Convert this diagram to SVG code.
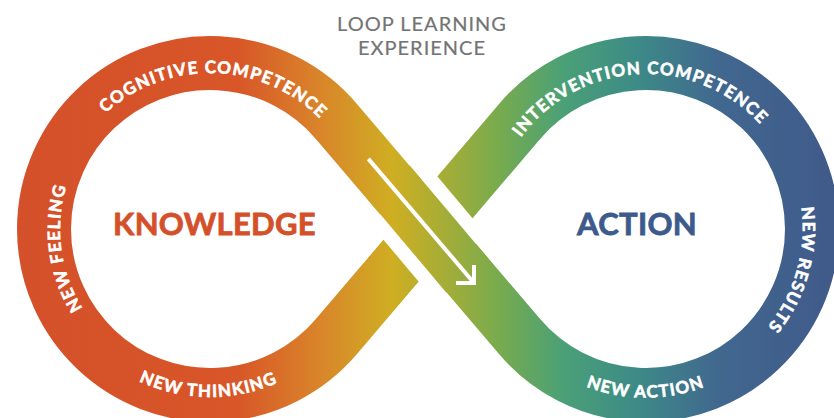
<svg xmlns="http://www.w3.org/2000/svg" width="834" height="418" viewBox="0 0 834 418">
<defs>
<linearGradient id="band" gradientUnits="userSpaceOnUse" x1="16" y1="0" x2="834" y2="0">
<stop offset="0" stop-color="#D4502A"/>
<stop offset="0.27" stop-color="#D85628"/>
<stop offset="0.37" stop-color="#D9842A"/>
<stop offset="0.46" stop-color="#CFAE22"/>
<stop offset="0.52" stop-color="#A8AD35"/>
<stop offset="0.59" stop-color="#78AB4E"/>
<stop offset="0.67" stop-color="#4AA077"/>
<stop offset="0.76" stop-color="#3D8A87"/>
<stop offset="0.86" stop-color="#41678F"/>
<stop offset="1" stop-color="#405A8A"/>
</linearGradient>
<path id="p-cog" d="M64.9,171.8 A156,156 0 0 1 357.9,179.5"/>
<path id="p-feel" d="M152.6,367.6 A150,150 0 0 1 118.7,110.0"/>
<path id="p-think" d="M63.8,311.7 A168,168 0 0 0 354.7,314.3"/>
<path id="p-int" d="M497.8,183.7 A155,155 0 0 1 788.7,168.4"/>
<path id="p-res" d="M792.8,173.2 A156,156 0 0 1 741.5,351.9"/>
<path id="p-act" d="M499.8,313.0 A168,168 0 0 0 791.5,313.0"/>
</defs>
<style>
.band{fill:none;stroke:url(#band);stroke-width:54}
.lbl{font-family:Lato,"Open Sans","Liberation Sans",sans-serif;font-weight:700;font-size:17px;fill:#FFFFFF;stroke:#FFFFFF;stroke-width:0.6px;letter-spacing:1.3px}
.main{font-family:Lato,"Open Sans","Liberation Sans",sans-serif;font-weight:700;font-size:31px;text-anchor:middle;stroke-width:0.8px;letter-spacing:0.3px}
.title{font-family:Lato,"Open Sans","Liberation Sans",sans-serif;font-weight:400;font-size:20px;fill:#747474;stroke:#747474;stroke-width:0.2px;text-anchor:middle;letter-spacing:1px}
</style>
<g id="connectors">
<path class="band" d="M336.42,121.40 L519.58,336.60 A166,166 0 1 0 519.58,121.40 L336.42,336.60 A166,166 0 1 1 336.42,121.40 Z"/>
<line x1="400.8" y1="196.6" x2="455.2" y2="261.4" stroke="#FFFFFF" stroke-width="82"/>
<line x1="389.1" y1="182.9" x2="466.9" y2="275.1" class="band"/>
<path d="M368.4,158.9 L474,283" fill="none" stroke="#FFFFFF" stroke-width="4"/>
<path d="M458,283 L474,283 L474,267" fill="none" stroke="#FFFFFF" stroke-width="4" stroke-linecap="square"/>
</g>
<g id="title">
<text class="title" x="422" y="30.5">LOOP LEARNING</text>
<text class="title" x="422" y="55">EXPERIENCE</text>
</g>
<g id="knowledge">
<text class="main" x="214.5" y="235" fill="#D4502A" stroke="#D4502A">KNOWLEDGE</text>
<text class="lbl"><textPath href="#p-cog" startOffset="50%" text-anchor="middle">COGNITIVE COMPETENCE</textPath></text>
<text class="lbl"><textPath href="#p-feel" startOffset="50%" text-anchor="middle">NEW FEELING</textPath></text>
<text class="lbl"><textPath href="#p-think" startOffset="50%" text-anchor="middle">NEW THINKING</textPath></text>
</g>
<g id="action">
<text class="main" x="637" y="235" fill="#3D5A8C" stroke="#3D5A8C">ACTION</text>
<text class="lbl"><textPath href="#p-int" startOffset="50%" text-anchor="middle">INTERVENTION COMPETENCE</textPath></text>
<text class="lbl"><textPath href="#p-res" startOffset="50%" text-anchor="middle">NEW RESULTS</textPath></text>
<text class="lbl"><textPath href="#p-act" startOffset="50%" text-anchor="middle">NEW ACTION</textPath></text>
</g>
</svg>
